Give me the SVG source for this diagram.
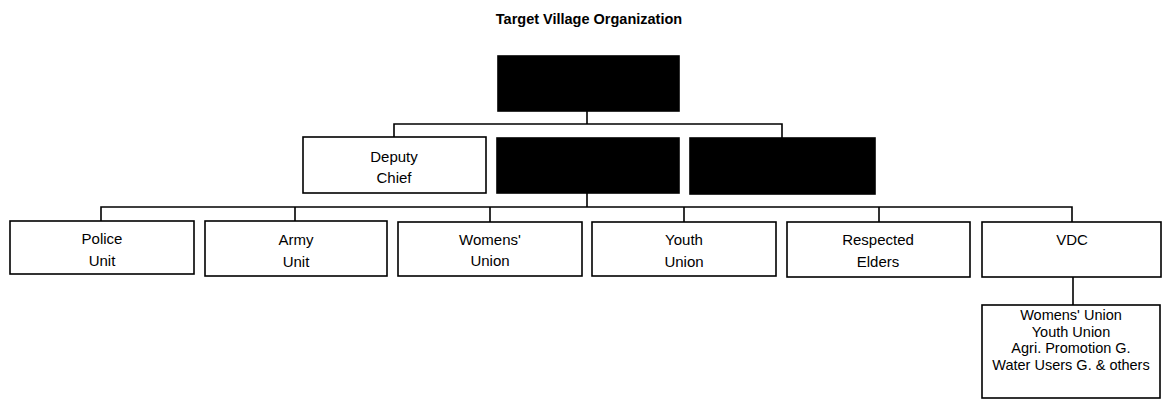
<svg xmlns="http://www.w3.org/2000/svg" width="1162" height="404" viewBox="0 0 1162 404">
<style>
.box{fill:#fff;stroke:#000;stroke-width:1.6}
.dark{fill:#000;stroke:#000;stroke-width:1.6}
.t{font-family:"Liberation Sans",Arial,sans-serif;font-size:15px;fill:#000;text-anchor:middle}
.s{font-family:"Liberation Sans",Arial,sans-serif;font-size:14.5px;fill:#000;text-anchor:middle}
.title{font-family:"Liberation Sans",Arial,sans-serif;font-size:14.5px;font-weight:bold;fill:#000;text-anchor:middle}
.c{fill:none;stroke:#000;stroke-width:1.6}
</style>
<rect width="1162" height="404" fill="#fff"/>
<text class="title" x="589" y="24">Target Village Organization</text>
<g id="connectors">
<path class="c" d="M587 111V124M394 137V124H782V138"/>
<path class="c" d="M587 193V207M101 221V207H1072V222"/>
<path class="c" d="M295 207V221M490 207V222M684 207V222M879 207V222"/>
<path class="c" d="M1073 277V305"/>
</g>
<g id="chief"><rect class="dark" x="498" y="56" width="181" height="55"/></g>
<g id="deputy"><rect class="box" x="303" y="137" width="183" height="56"/><text class="t" x="394" y="162">Deputy</text><text class="t" x="394" y="183">Chief</text></g>
<g id="dark2"><rect class="dark" x="497" y="138" width="182" height="55"/></g>
<g id="dark3"><rect class="dark" x="690" y="138" width="185" height="56"/></g>
<g id="police"><rect class="box" x="10" y="221" width="184" height="53"/><text class="t" x="102" y="244">Police</text><text class="t" x="102" y="266">Unit</text></g>
<g id="army"><rect class="box" x="205" y="221" width="182" height="55"/><text class="t" x="296" y="245">Army</text><text class="t" x="296" y="267">Unit</text></g>
<g id="womens"><rect class="box" x="398" y="222" width="184" height="54"/><text class="t" x="490" y="245">Womens'</text><text class="t" x="490" y="266">Union</text></g>
<g id="youth"><rect class="box" x="592" y="222" width="184" height="54"/><text class="t" x="684" y="245">Youth</text><text class="t" x="684" y="267">Union</text></g>
<g id="elders"><rect class="box" x="787" y="222" width="183" height="55"/><text class="t" x="878" y="245">Respected</text><text class="t" x="878" y="267">Elders</text></g>
<g id="vdc"><rect class="box" x="982" y="222" width="179" height="55"/><text class="t" x="1072" y="245">VDC</text></g>
<g id="vdc-groups"><rect class="box" x="982" y="305" width="178" height="93"/><text class="s" x="1071" y="320">Womens' Union</text><text class="s" x="1071" y="336.5">Youth Union</text><text class="s" x="1071" y="353">Agri. Promotion G.</text><text class="s" x="1071" y="369.5">Water Users G. &amp; others</text></g>
</svg>
